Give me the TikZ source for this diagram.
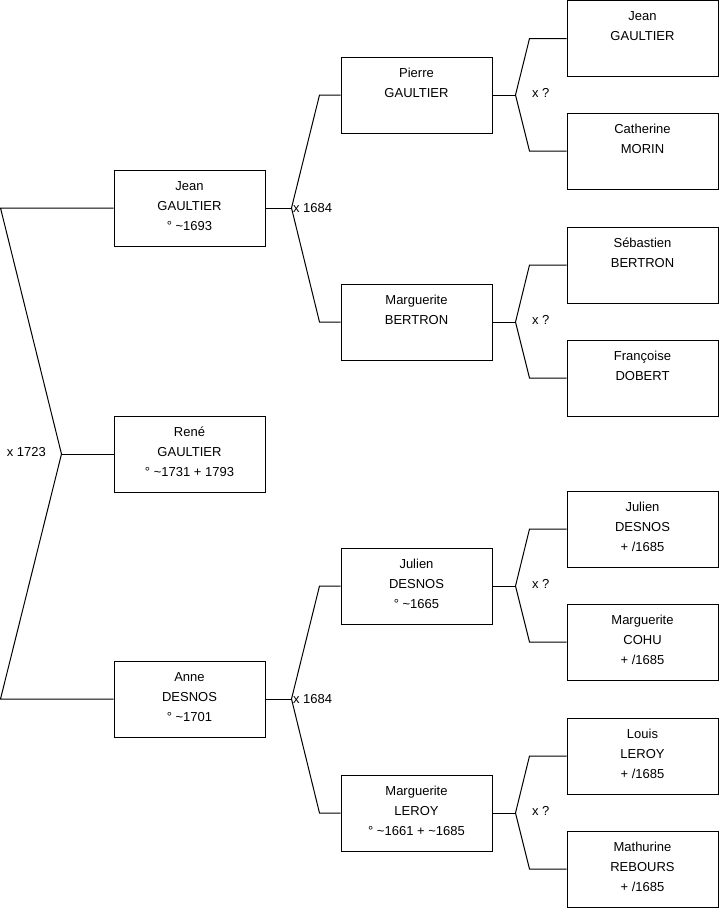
\documentclass[tikz,border=0pt]{standalone}
\usepackage{fontspec}
\setmainfont{Liberation Sans}
\usetikzlibrary{calc}
\tikzset{
  ancestor/.style={draw, line width=0.75pt, minimum width=113.25pt, minimum height=57pt,
    align=center, inner sep=0pt, font=\fontsize{9.75pt}{15pt}\selectfont,
    execute at end node={\rule[-3pt]{0pt}{0pt}}},
  union/.style={font=\fontsize{9.75pt}{11pt}\selectfont, inner sep=1pt},
  branch/.style={line width=0.75pt}
}
\begin{document}
\begin{tikzpicture}[x=0.75pt, y=-0.75pt]
\useasboundingbox (0,0) rectangle (719,908);
% generation 1 and 2
\node[ancestor] (rene) at (189.5,454) {René\\GAULTIER\\° \textasciitilde1731 + 1793};
\node[ancestor] (jean) at (189.5,208) {Jean\\GAULTIER\\° \textasciitilde1693};
\node[ancestor] (anne) at (189.5,699) {Anne\\DESNOS\\° \textasciitilde1701};
% generation 3
\node[ancestor] (pierre) at (416.5,95) {Pierre\\GAULTIER\\\mbox{}};
\node[ancestor] (mbertron) at (416.5,322) {Marguerite\\BERTRON\\\mbox{}};
\node[ancestor] (julien) at (416.5,586) {Julien\\DESNOS\\° \textasciitilde1665};
\node[ancestor] (mleroy) at (416.5,813) {Marguerite\\LEROY\\° \textasciitilde1661 + \textasciitilde1685};
% generation 4
\node[ancestor] (jeang) at (642.5,38.5) {Jean\\GAULTIER\\\mbox{}};
\node[ancestor] (catherine) at (642.5,151) {Catherine\\MORIN\\\mbox{}};
\node[ancestor] (sebastien) at (642.5,265) {Sébastien\\BERTRON\\\mbox{}};
\node[ancestor] (francoise) at (642.5,378) {Françoise\\DOBERT\\\mbox{}};
\node[ancestor] (juliend) at (642.5,529) {Julien\\DESNOS\\+ /1685};
\node[ancestor] (mcohu) at (642.5,642) {Marguerite\\COHU\\+ /1685};
\node[ancestor] (louis) at (642.5,756) {Louis\\LEROY\\+ /1685};
\node[ancestor] (mathurine) at (642.5,869) {Mathurine\\REBOURS\\+ /1685};

% parents of René
\coordinate (f-rene) at ($(rene.west)+(-52,0)$);
\draw[branch] (rene.west) -- (f-rene);
\draw[branch] (jean.west) -- ($(f-rene |- jean.west)+(-61,0)$) -- (f-rene)
  -- ($(f-rene |- anne.west)+(-61,0)$) -- (anne.west);
\node[union, anchor=east] (u-rene) at ($(f-rene)+(-14,-2)$) {x 1723};

\foreach \p/\a/\b in {jean/pierre/mbertron, anne/julien/mleroy} {
  \draw[branch] (\p.east) -- ++(26,0) coordinate (f-\p);
  \draw[branch] (\a.west) -- ($(f-\p |- \a.west)+(28,0)$) -- (f-\p)
    -- ($(f-\p |- \b.west)+(28,0)$) -- (\b.west);
  \node[union, anchor=west] (u-\p) at (f-\p) {x 1684};
}

\foreach \p/\a/\b in {pierre/jeang/catherine, mbertron/sebastien/francoise,
    julien/juliend/mcohu, mleroy/louis/mathurine} {
  \draw[branch] (\p.east) -- ++(23,0) coordinate (f-\p);
  \draw[branch] (\a.west) -- ($(f-\p |- \a.west)+(14,0)$) -- (f-\p)
    -- ($(f-\p |- \b.west)+(14,0)$) -- (\b.west);
  \node[union, anchor=west] (u-\p) at ($(f-\p)+(15,-2)$) {x ?};
}
\end{tikzpicture}
\end{document}
